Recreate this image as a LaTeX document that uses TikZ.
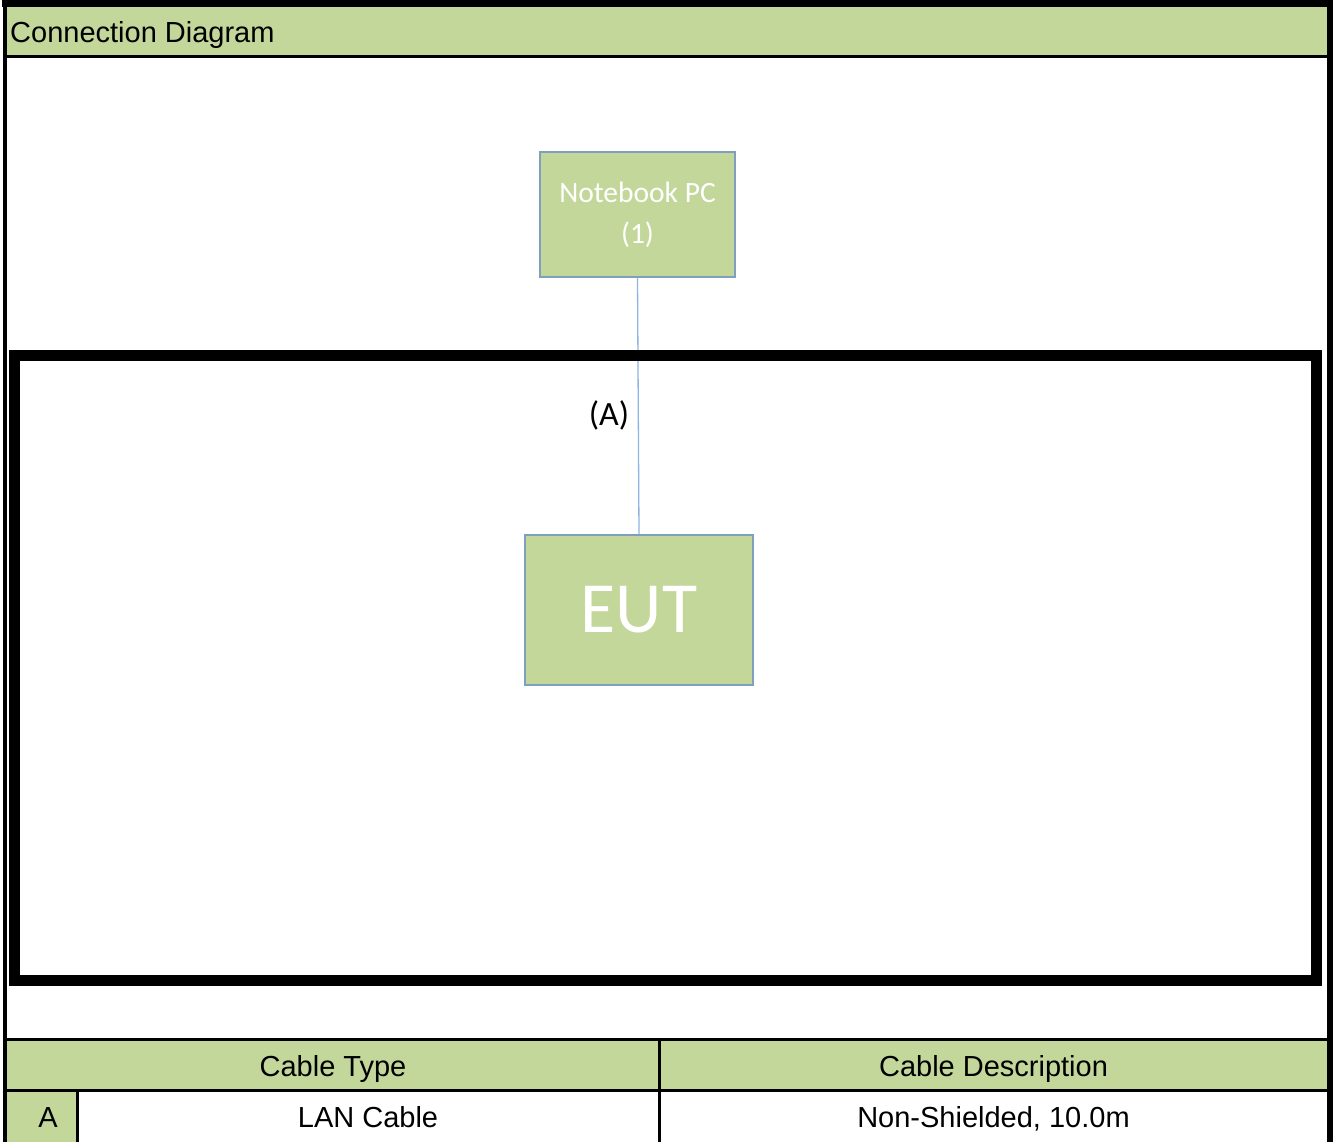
\documentclass[tikz,border=0pt]{standalone}
\usepackage{fontspec}
\setmainfont{Liberation Sans}
\newfontfamily\calfont{Carlito}
\definecolor{hdrgreen}{HTML}{C4D79B}
\definecolor{boxedge}{HTML}{7F9FBF}
\definecolor{cablecol}{HTML}{8DB4E2}
\tikzset{
  devbox/.style={draw=boxedge, line width=1.2pt, fill=hdrgreen, inner sep=0pt, align=center, text=white},
  tabtext/.style={inner sep=0pt, font=\fontsize{29}{34}\selectfont},
  rule/.style={line width=3pt, black}
}
\begin{document}
\begin{tikzpicture}[x=1pt,y=-1pt]
\useasboundingbox (0,0) rectangle (1336,1142);
% header band
\fill[hdrgreen] (7,7) rectangle (1327,56);
\node[tabtext, anchor=base west] (title) at (10,43) {Connection Diagram};
% table fills
\fill[hdrgreen] (7,1039) rectangle (1327,1090);
\fill[hdrgreen] (7,1090) rectangle (77,1142);
% outer borders
\draw[line width=4pt] (5,1142) -- (5,3.5);
\draw[line width=7pt] (1.5,3.5) -- (1333,3.5);
\draw[line width=6pt] (1330,0) -- (1330,1142);
\draw[line width=2.5pt] (7,56.5) -- (1327,56.5);
% table rules
\draw[rule] (7,1039) -- (1327,1039);
\draw[rule] (7,1090) -- (1327,1090);
\draw[rule] (77,1090) -- (77,1142);
\draw[rule] (659,1039) -- (659,1142);
% table texts
\node[tabtext, anchor=base] (ctype) at (333,1076.5) {Cable Type};
\node[tabtext, anchor=base] (cdesc) at (993.5,1076.5) {Cable Description};
\node[tabtext, anchor=base] (ca) at (48,1127.5) {A};
\node[tabtext, anchor=base] (clan) at (368,1127.5) {LAN Cable};
\node[tabtext, anchor=base] (cnon) at (993.5,1127.5) {Non-Shielded, 10.0m};
% devices
\node[devbox, minimum width=195pt, minimum height=125pt, font=\calfont\fontsize{29.5}{41}\selectfont] (nb) at (637.5,214.5) {Notebook PC\\(1)};
\node[devbox, minimum width=228pt, minimum height=150pt, font=\calfont\fontsize{72}{80}\selectfont] (eut) at (639,610) {EUT};
\draw[cablecol, line width=1.3pt] (nb.south) -- (eut.north);
\node[inner sep=0pt, font=\calfont\fontsize{34}{40}\selectfont] (lblA) at (609,415) {(A)};
% thick frame
\draw[line width=11.5pt, line join=miter] (14.5,355.5) rectangle (1316.5,980.5);
\end{tikzpicture}
\end{document}
